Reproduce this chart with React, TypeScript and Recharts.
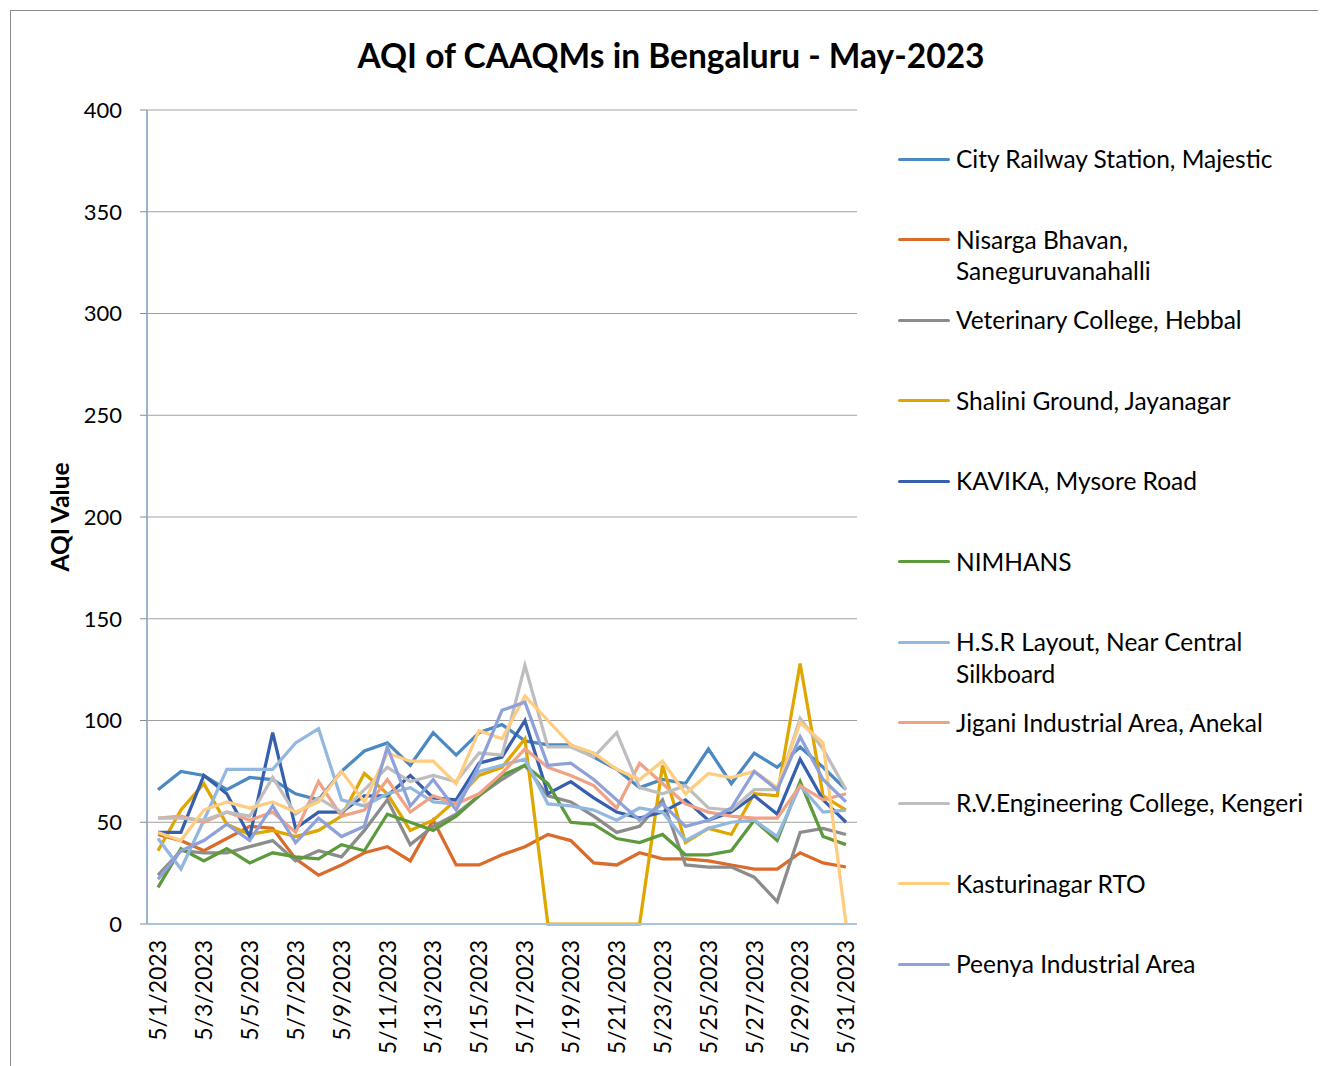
import React from "react";
import { LineChart, Line, XAxis, YAxis, CartesianGrid, Legend, Label } from "recharts";

const DATES = [
  "5/1/2023", "5/2/2023", "5/3/2023", "5/4/2023", "5/5/2023", "5/6/2023", "5/7/2023", "5/8/2023",
  "5/9/2023", "5/10/2023", "5/11/2023", "5/12/2023", "5/13/2023", "5/14/2023", "5/15/2023", "5/16/2023",
  "5/17/2023", "5/18/2023", "5/19/2023", "5/20/2023", "5/21/2023", "5/22/2023", "5/23/2023", "5/24/2023",
  "5/25/2023", "5/26/2023", "5/27/2023", "5/28/2023", "5/29/2023", "5/30/2023", "5/31/2023",
];

const Y_TICKS = [0, 50, 100, 150, 200, 250, 300, 350, 400];

const CITY_RAILWAY = [66, 75, 73, 66, 72, 71, 64, 61, 75, 85, 89, 78, 94, 83, 94, 98, 90, 88, 88, 82, 76, 67, 71, 69, 86, 69, 84, 77, 87, 77, 66];
const NISARGA = [44, 41, 36, 42, 48, 47, 32, 24, 29, 35, 38, 31, 51, 29, 29, 34, 38, 44, 41, 30, 29, 35, 32, 32, 31, 29, 27, 27, 35, 30, 28];
const VETERINARY = [24, 36, 35, 35, 38, 41, 31, 36, 33, 46, 61, 39, 48, 54, 63, 71, 78, 63, 60, 53, 45, 48, 61, 29, 28, 28, 23, 11, 45, 47, 44];
const SHALINI = [36, 56, 69, 49, 44, 46, 43, 46, 53, 74, 64, 46, 51, 61, 73, 77, 91, 0, 0, 0, 0, 0, 78, 40, 47, 44, 64, 63, 128, 63, 56];
const KAVIKA = [45, 45, 73, 64, 43, 94, 47, 55, 55, 63, 63, 73, 62, 61, 79, 82, 100, 64, 70, 62, 55, 52, 55, 61, 51, 55, 63, 54, 81, 61, 50];
const NIMHANS = [18, 37, 31, 37, 30, 35, 33, 32, 39, 36, 54, 50, 46, 53, 63, 73, 78, 69, 50, 49, 42, 40, 44, 34, 34, 36, 51, 41, 70, 43, 39];
const HSR = [42, 27, 51, 76, 76, 76, 89, 96, 61, 58, 64, 67, 60, 59, 75, 78, 81, 59, 58, 56, 51, 57, 55, 41, 47, 50, 51, 43, 68, 55, 56];
const JIGANI = [52, 53, 50, 55, 51, 55, 45, 70, 53, 56, 71, 55, 63, 59, 64, 74, 86, 77, 73, 68, 57, 79, 69, 59, 55, 53, 52, 52, 68, 61, 64];
const RV_ENGG = [52, 52, 51, 55, 53, 72, 54, 62, 55, 66, 77, 70, 73, 70, 84, 83, 127, 87, 87, 82, 94, 67, 64, 68, 57, 56, 66, 66, 101, 86, 66];
const KASTURINAGAR = [45, 41, 56, 60, 57, 60, 55, 60, 75, 60, 84, 80, 80, 69, 95, 91, 112, 100, 88, 84, 76, 71, 80, 64, 74, 72, 75, 67, 99, 89, 0];
const PEENYA = [22, 36, 41, 49, 41, 58, 40, 52, 43, 48, 87, 58, 71, 56, 78, 105, 109, 78, 79, 71, 61, 51, 59, 48, 51, 57, 75, 66, 92, 71, 60];

const STATIONS = [
  { key: "s1", name: "City Railway Station, Majestic", color: "#4a89c2", values: CITY_RAILWAY },
  { key: "s2", name: "Nisarga Bhavan, Saneguruvanahalli", color: "#da6b2b", values: NISARGA },
  { key: "s3", name: "Veterinary College, Hebbal", color: "#8c8c8c", values: VETERINARY },
  { key: "s4", name: "Shalini Ground, Jayanagar", color: "#e0a600", values: SHALINI },
  { key: "s5", name: "KAVIKA, Mysore Road", color: "#3660ad", values: KAVIKA },
  { key: "s6", name: "NIMHANS", color: "#5d9a3b", values: NIMHANS },
  { key: "s7", name: "H.S.R Layout, Near Central Silkboard", color: "#93b8e0", values: HSR },
  { key: "s8", name: "Jigani Industrial Area, Anekal", color: "#f0a286", values: JIGANI },
  { key: "s9", name: "R.V.Engineering College, Kengeri", color: "#bebebe", values: RV_ENGG },
  { key: "s10", name: "Kasturinagar RTO", color: "#ffcc80", values: KASTURINAGAR },
  { key: "s11", name: "Peenya Industrial Area", color: "#8ea1d8", values: PEENYA },
];

const rows = DATES.map((date, i) => {
  const row: Record<string, string | number> = { date };
  STATIONS.forEach(s => { row[s.key] = s.values[i]; });
  return row;
});

const FONT = "Lato, 'DejaVu Sans', sans-serif";

function DateTick({ x, y, payload }: any) {
  return (
    <text x={x} y={y} transform={`rotate(-90, ${x}, ${y})`} dx={-16} dy="0.36em"
      textAnchor="end" fontSize={23} fontFamily={FONT} fill="#000">
      {payload.value}
    </text>
  );
}

function AxisTitle({ viewBox }: any) {
  const cx = viewBox.x + 52;
  const cy = viewBox.y + viewBox.height / 2;
  return (
    <text x={cx} y={cy} transform={`rotate(-90, ${cx}, ${cy})`} textAnchor="middle" dy="0.35em"
      fontSize={24.5} fontWeight={700} fontFamily={FONT} fill="#000">
      AQI Value
    </text>
  );
}

// keep the series order (recharts sorts legend payload by name otherwise)
function StationLegend() {
  return (
    <div style={{ fontFamily: FONT }}>
      {STATIONS.map(s => (
        <div key={s.key} style={{ display: "flex", height: 80.5 }}>
          <div style={{ width: 52, height: 3, borderRadius: 2, background: s.color, marginTop: 14.5, marginRight: 6, flexShrink: 0 }} />
          <div style={{ width: 362, fontSize: 24.5, lineHeight: "31.5px", color: "#000" }}>{s.name}</div>
        </div>
      ))}
    </div>
  );
}

export default function App() {
  return (
    <div style={{ position: "relative", width: 1318, height: 1058, fontFamily: FONT }}>
      <div style={{ position: "absolute", left: 2, top: 2, width: 1316, height: 1056, boxSizing: "border-box", borderTop: "1px solid #8c8c8c", borderLeft: "1px solid #8c8c8c" }} />
      <div style={{ position: "absolute", left: 0, top: 27, width: 1326, textAlign: "center", fontSize: 33.5, lineHeight: "40px", fontWeight: 700, color: "#000" }}>
        AQI of CAAQMs in Bengaluru - May-2023
      </div>
      <LineChart width={1318} height={1058} data={rows} margin={{ top: 102, right: 469, bottom: 0, left: 0 }}>
        <CartesianGrid vertical={false} stroke="#a0a0a0" />
        <XAxis dataKey="date" interval={1} height={142} padding={{ left: 11, right: 11 }}
          tick={<DateTick />} tickLine={false} tickSize={0} tickMargin={0}
          axisLine={{ stroke: "#a9c4e0", strokeWidth: 2 }} />
        <XAxis xAxisId="top" dataKey="date" orientation="top" height={0} tick={false} tickLine={false}
          axisLine={{ stroke: "#b7d1ec", strokeWidth: 2 }} />
        <YAxis domain={[0, 400]} ticks={Y_TICKS} width={139} tickSize={7} tickMargin={18}
          tick={{ fontSize: 22, fill: "#000", fontFamily: FONT }}
          tickLine={{ stroke: "#8c8c8c" }} axisLine={{ stroke: "#9bb5d0", strokeWidth: 2 }}>
          <Label content={<AxisTitle />} />
        </YAxis>
        <YAxis yAxisId="right" orientation="right" domain={[0, 400]} width={0} tick={false} tickLine={false}
          axisLine={{ stroke: "#b0cdeb", strokeWidth: 3 }} />
        <Legend layout="vertical" align="center" verticalAlign="middle" content={<StationLegend />}
          wrapperStyle={{ left: 890, top: 135, width: 430, height: "auto" }} />
        {STATIONS.map(s => (
          <Line key={s.key} type="linear" dataKey={s.key} name={s.name} stroke={s.color} strokeWidth={3.25}
            dot={false} activeDot={false} isAnimationActive={false} />
        ))}
      </LineChart>
    </div>
  );
}
